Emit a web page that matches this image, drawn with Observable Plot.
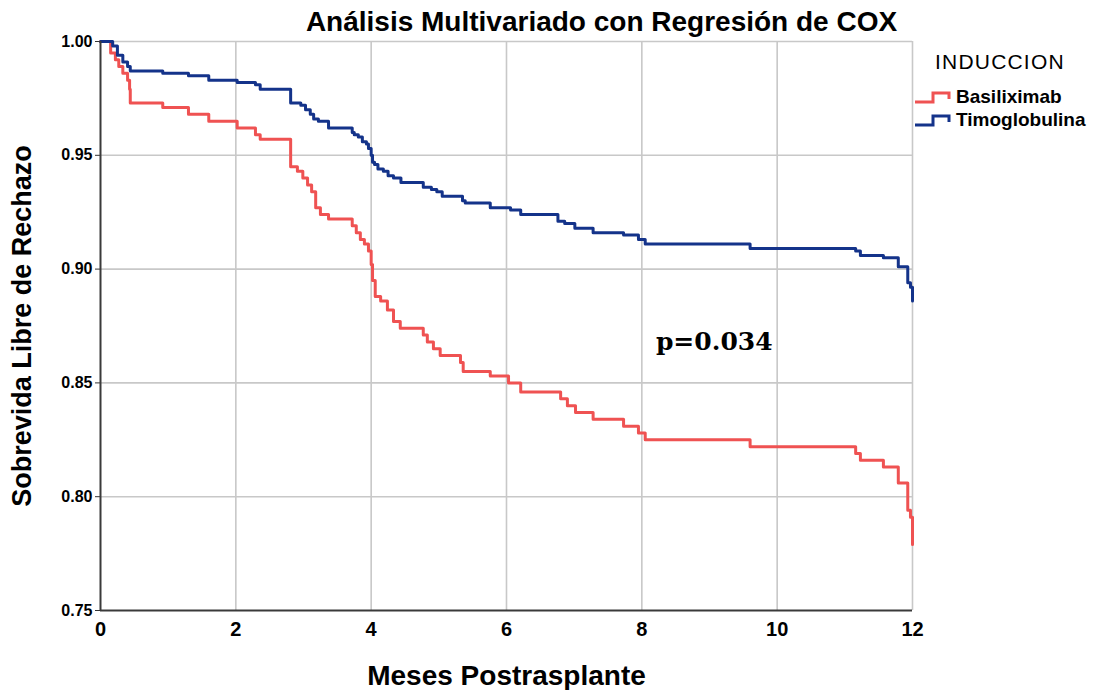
<!DOCTYPE html>
<html>
<head>
<meta charset="utf-8">
<script src="https://cdn.jsdelivr.net/npm/d3@7"></script>
<script src="https://cdn.jsdelivr.net/npm/@observablehq/plot@0.6"></script>
<style>
  body { margin: 0; background: #fff; }
  #wrap { position: relative; width: 1099px; height: 690px; overflow: hidden; }
  #legend { position: absolute; left: 0; top: 0; font-family: "Liberation Sans", Arial, sans-serif; color: #000; }
  .lg-title { position: absolute; left: 935px; top: 49px; font-size: 21px; letter-spacing: 1.2px; white-space: nowrap; line-height: 26px; }
  .lg-item { position: absolute; left: 914px; height: 22px; display: flex; align-items: center; white-space: nowrap; }
  .lg-item span { font-size: 19px; font-weight: bold; margin-left: 2px; }
</style>
</head>
<body>
<div id="wrap"><div id="chart"></div><div id="legend"></div></div>
<script>
// ---- Data ----
const seriesNames = ["Basiliximab", "Timoglobulina"];
const seriesColors = ["#ef5252", "#14338a"];

const basiTime = [0, 0.15, 0.22, 0.27, 0.33, 0.40, 0.43, 0.44, 0.92, 1.30, 1.60, 2.02, 2.29, 2.36,
  2.81, 2.91, 2.99, 3.06, 3.12, 3.18, 3.25, 3.37, 3.72, 3.78, 3.84, 3.90, 3.96, 4.00, 4.02, 4.06,
  4.14, 4.24, 4.33, 4.43, 4.77, 4.83, 4.92, 5.02, 5.32, 5.36, 5.76, 6.03, 6.21, 6.80, 6.90, 7.02,
  7.28, 7.73, 7.95, 8.05, 9.60, 11.16, 11.23, 11.57, 11.79, 11.93, 11.97, 12.00];
const basiSurv = [1.000, 0.995, 0.992, 0.989, 0.986, 0.983, 0.979, 0.973, 0.971, 0.968, 0.965, 0.962, 0.959, 0.957,
  0.945, 0.943, 0.940, 0.937, 0.934, 0.927, 0.924, 0.922, 0.919, 0.916, 0.913, 0.911, 0.908, 0.902, 0.895, 0.888,
  0.886, 0.882, 0.877, 0.874, 0.871, 0.868, 0.865, 0.862, 0.859, 0.855, 0.853, 0.850, 0.846, 0.843, 0.840, 0.837,
  0.834, 0.831, 0.828, 0.825, 0.822, 0.819, 0.816, 0.813, 0.806, 0.794, 0.791, 0.779];

const timoTime = [0, 0.18, 0.25, 0.33, 0.40, 0.44, 0.92, 1.30, 1.60, 2.02, 2.29, 2.36,
  2.81, 2.96, 3.03, 3.10, 3.15, 3.22, 3.37, 3.72, 3.75, 3.81, 3.87, 3.93, 3.96, 4.00,
  4.02, 4.05, 4.10, 4.18, 4.25, 4.33, 4.44, 4.77, 4.89, 4.97, 5.05, 5.35, 5.39, 5.76,
  6.06, 6.21, 6.76, 6.86, 7.01, 7.28, 7.73, 7.95, 8.05, 9.60, 11.16, 11.23, 11.57, 11.79, 11.93, 11.97, 12.00];
const timoSurv = [1.000, 0.998, 0.994, 0.991, 0.989, 0.987, 0.986, 0.985, 0.983, 0.982, 0.981, 0.979,
  0.973, 0.972, 0.970, 0.968, 0.966, 0.965, 0.962, 0.960, 0.959, 0.958, 0.956, 0.955, 0.953, 0.950,
  0.947, 0.946, 0.944, 0.943, 0.941, 0.940, 0.938, 0.936, 0.935, 0.934, 0.932, 0.930, 0.929, 0.927,
  0.926, 0.924, 0.921, 0.920, 0.918, 0.916, 0.915, 0.913, 0.911, 0.909, 0.908, 0.906, 0.905, 0.901, 0.894, 0.892, 0.886];

const xTicks = [0, 2, 4, 6, 8, 10, 12];
const yTicks = [0.75, 0.80, 0.85, 0.90, 0.95, 1.00];

const titleText = "Análisis Multivariado con Regresión de COX";
const xTitle = "Meses Postrasplante";
const yTitle = "Sobrevida Libre de Rechazo";
const legendTitle = "INDUCCION";
const pLabel = {x: 9.07, y: 0.868, text: "p=0.034"};

// ---- Build tables ----
const basi = basiTime.map((t, i) => ({t, s: basiSurv[i]}));
const timo = timoTime.map((t, i) => ({t, s: timoSurv[i]}));

const sans = "'Liberation Sans', Arial, sans-serif";
const narrow = "'Liberation Sans Narrow', 'Arial Narrow', 'Liberation Sans', sans-serif";

const chart = Plot.plot({
  width: 1099,
  height: 690,
  marginLeft: 100,
  marginRight: 187,
  marginTop: 41,
  marginBottom: 80,
  x: {domain: [0, 12]},
  y: {domain: [0.75, 1.0]},
  style: {fontFamily: sans, background: "#fff", color: "#000"},
  marks: [
    Plot.gridX(xTicks.slice(1), {stroke: "#c8c8c8", strokeOpacity: 1, strokeWidth: 1.6}),
    Plot.gridY(yTicks.slice(1), {stroke: "#c8c8c8", strokeOpacity: 1, strokeWidth: 1.6}),
    Plot.line(basi, {x: "t", y: "s", curve: "step-after", stroke: seriesColors[0], strokeWidth: 3}),
    Plot.line(timo, {x: "t", y: "s", curve: "step-after", stroke: seriesColors[1], strokeWidth: 3}),
    Plot.axisY(yTicks, {tickFormat: d3.format(".2f"), tickSize: 5, tickPadding: 3, fontSize: 16,
      fontWeight: "bold", label: null, stroke: "#333"}),
    Plot.axisX(xTicks, {tickSize: 0, tickPadding: 11, fontSize: 20, fontWeight: "bold",
      fontFamily: narrow, label: null}),
    Plot.ruleX([0], {stroke: "#3a3a3a", strokeWidth: 2}),
    Plot.ruleY([0.75], {stroke: "#3a3a3a", strokeWidth: 2}),
    Plot.text([titleText], {text: d => d, frameAnchor: "top", dx: 95, dy: -19, lineAnchor: "middle",
      fontSize: 28, fontWeight: "bold", fontFamily: sans, fill: "#000"}),
    Plot.text([yTitle], {text: d => d, frameAnchor: "left", dx: -78, rotate: -90, lineAnchor: "middle",
      textAnchor: "middle", fontSize: 27, fontWeight: "bold", fontFamily: sans, fill: "#000"}),
    Plot.text([xTitle], {text: d => d, frameAnchor: "bottom", dy: 66, lineAnchor: "middle",
      fontSize: 28, fontWeight: "bold", fontFamily: narrow, fill: "#000"}),
    Plot.text([pLabel], {x: "x", y: "y", text: "text", lineAnchor: "middle", fontSize: 25,
      fontWeight: "bold", fontFamily: "'DejaVu Serif', serif", fill: "#000"})
  ]
});
document.getElementById("chart").appendChild(chart);

// ---- Legend ----
const legend = document.getElementById("legend");
const t = document.createElement("div");
t.className = "lg-title";
t.textContent = legendTitle;
legend.appendChild(t);
const itemTops = [86, 109];
seriesNames.forEach((name, i) => {
  const row = document.createElement("div");
  row.className = "lg-item";
  row.style.top = itemTops[i] + "px";
  const svg = d3.create("svg").attr("width", 40).attr("height", 16);
  svg.append("path").attr("d", "M1,13 H19 V4 H35 V10")
    .attr("fill", "none").attr("stroke", seriesColors[i]).attr("stroke-width", 3);
  row.appendChild(svg.node());
  const sp = document.createElement("span");
  sp.textContent = name;
  row.appendChild(sp);
  legend.appendChild(row);
});
</script>
</body>
</html>
